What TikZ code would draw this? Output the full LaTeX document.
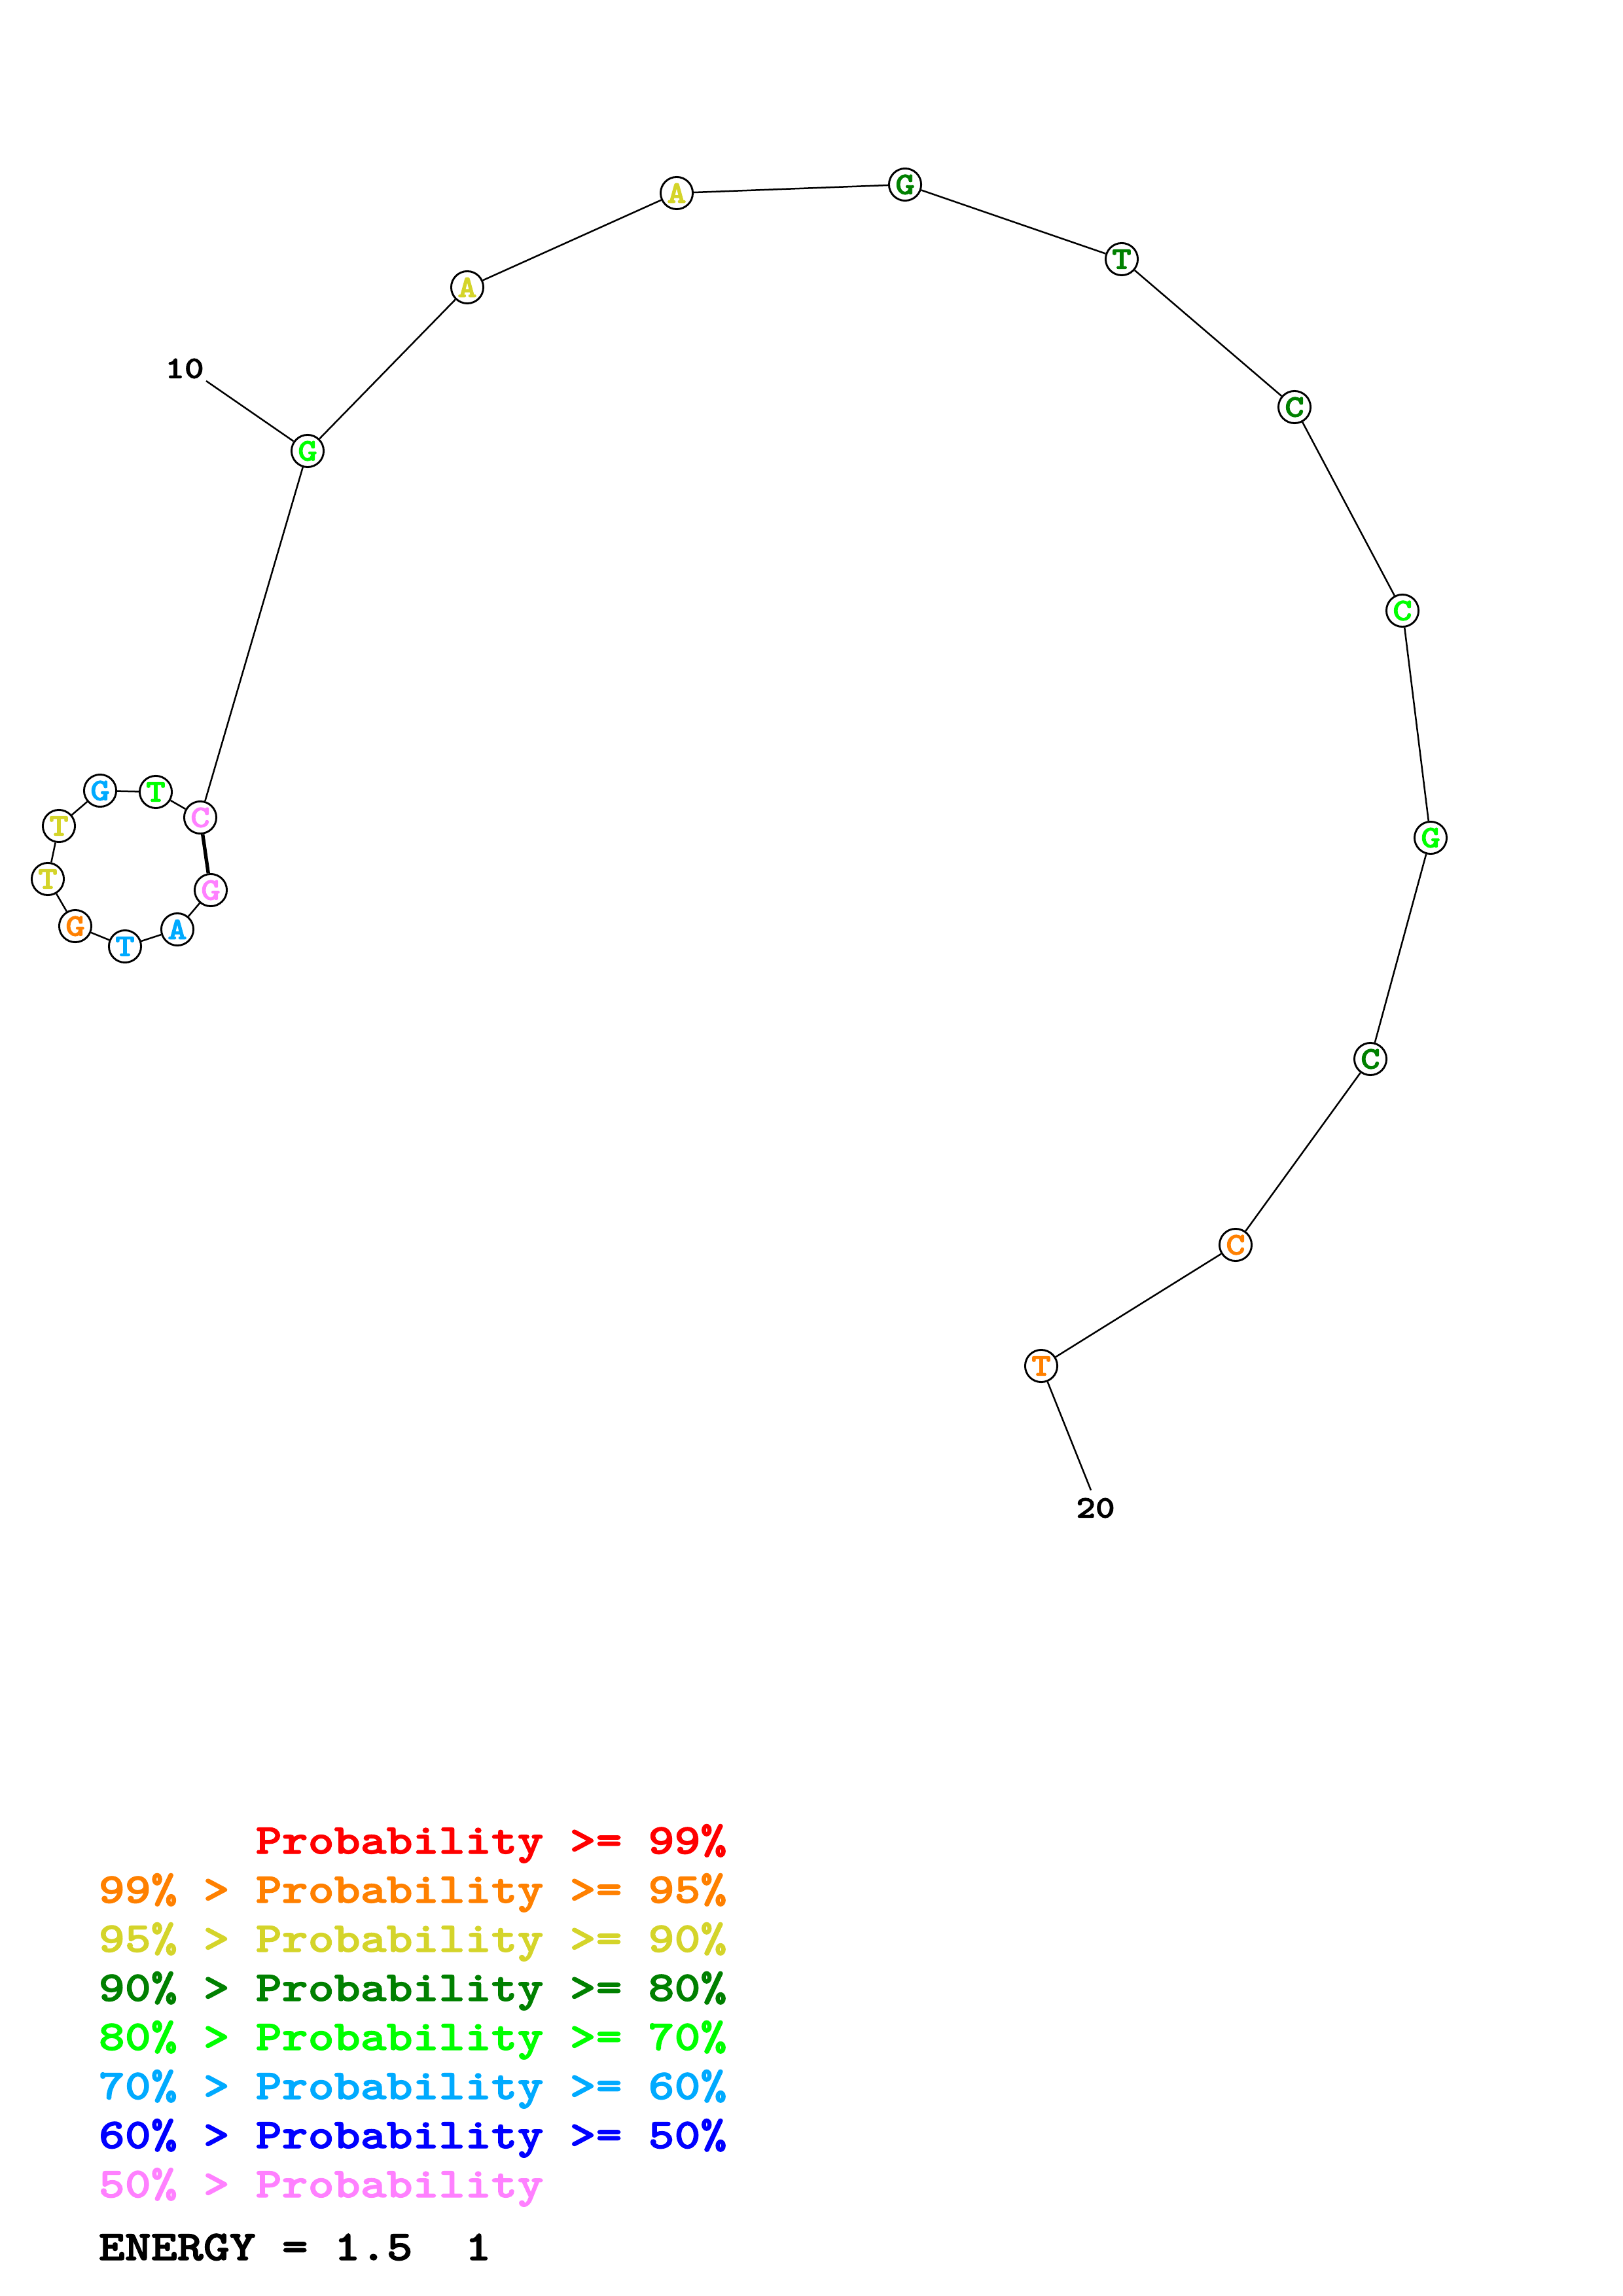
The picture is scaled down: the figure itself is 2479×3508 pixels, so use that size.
\documentclass[tikz,border=0pt]{standalone}
\usepackage{fontspec}
\usepackage{xcolor}
\usepackage{tikz}
\newfontfamily\basefont{lmmonolt10-bold.otf}[FakeStretch=1.18, FakeBold=2]

\definecolor{pred}{RGB}{255,0,0}
\definecolor{porange}{RGB}{255,128,0}
\definecolor{pyellow}{RGB}{212,212,42}
\definecolor{pdkgreen}{RGB}{0,128,0}
\definecolor{pgreen}{RGB}{0,255,0}
\definecolor{psky}{RGB}{0,170,255}
\definecolor{pblue}{RGB}{0,0,255}
\definecolor{ppink}{RGB}{255,128,255}

\tikzset{
  base/.style={circle, draw, line width=0.7pt, inner sep=0pt, minimum size=11.8pt,
    font=\basefont\fontsize{11.5}{11.5}\selectfont},
  bond/.style={line width=0.6pt},
  pair/.style={line width=1.3pt},
  numlabel/.style={inner sep=0pt, font=\basefont\fontsize{11.5}{11.5}\selectfont},
  legend/.style={anchor=base west, inner sep=0pt, font=\basefont\fontsize{15.5}{15.5}\selectfont},
}

\begin{document}
\begin{tikzpicture}[x=0.24014pt, y=-0.24014pt]
    \useasboundingbox (0,0) rectangle (2479,3508);

    % Draw the bases
    \node[base, text=ppink]    (n1)  at (322,1360) {G};
    \node[base, text=psky]     (n2)  at (271,1420) {A};
    \node[base, text=psky]     (n3)  at (191,1446) {T};
    \node[base, text=porange]  (n4)  at (115,1415) {G};
    \node[base, text=pyellow]  (n5)  at (73,1343)  {T};
    \node[base, text=pyellow]  (n6)  at (90,1262)  {T};
    \node[base, text=psky]     (n7)  at (153,1208) {G};
    \node[base, text=pgreen]   (n8)  at (238,1210) {T};
    \node[base, text=ppink]    (n9)  at (306,1249) {C};
    \node[base, text=pgreen]   (n10) at (470,689)  {G};
    \node[base, text=pyellow]  (n11) at (714,439)  {A};
    \node[base, text=pyellow]  (n12) at (1034,295) {A};
    \node[base, text=pdkgreen] (n13) at (1383,282) {G};
    \node[base, text=pdkgreen] (n14) at (1714,396) {T};
    \node[base, text=pdkgreen] (n15) at (1978,622) {C};
    \node[base, text=pgreen]   (n16) at (2143,933) {C};
    \node[base, text=pgreen]   (n17) at (2186,1280) {G};
    \node[base, text=pdkgreen] (n18) at (2094,1618) {C};
    \node[base, text=porange]  (n19) at (1888,1902) {C};
    \node[base, text=porange]  (n20) at (1591,2087) {T};

    % Draw the backbone
    \foreach \a [evaluate=\a as \b using int(\a+1)] in {1,...,19} {
        \draw[bond] (n\a) -- (n\b);
    }
    % Draw the base pair
    \draw[pair] (n1) -- (n9);

    % Draw the numbering
    \coordinate (c10) at (315,582);
    \coordinate (c20) at (1667,2277);
    \draw[bond] (n10) -- (c10);
    \draw[bond] (n20) -- (c20);
    \node[numlabel] (l10) at (282,563)  {10};
    \node[numlabel] (l20) at (1674,2304) {20};

    % Draw the legend
    \node[legend, text=pred]     (leg1) at (150,2832) {\phantom{99\% > }Probability >= 99\%};
    \node[legend, text=porange]  (leg2) at (150,2907) {99\% > Probability >= 95\%};
    \node[legend, text=pyellow]  (leg3) at (150,2982) {95\% > Probability >= 90\%};
    \node[legend, text=pdkgreen] (leg4) at (150,3057) {90\% > Probability >= 80\%};
    \node[legend, text=pgreen]   (leg5) at (150,3132) {80\% > Probability >= 70\%};
    \node[legend, text=psky]     (leg6) at (150,3207) {70\% > Probability >= 60\%};
    \node[legend, text=pblue]    (leg7) at (150,3282) {60\% > Probability >= 50\%};
    \node[legend, text=ppink]    (leg8) at (150,3357) {50\% > Probability};
    \node[legend]                (energy) at (150,3453) {ENERGY = 1.5~~1};
\end{tikzpicture}
\end{document}
